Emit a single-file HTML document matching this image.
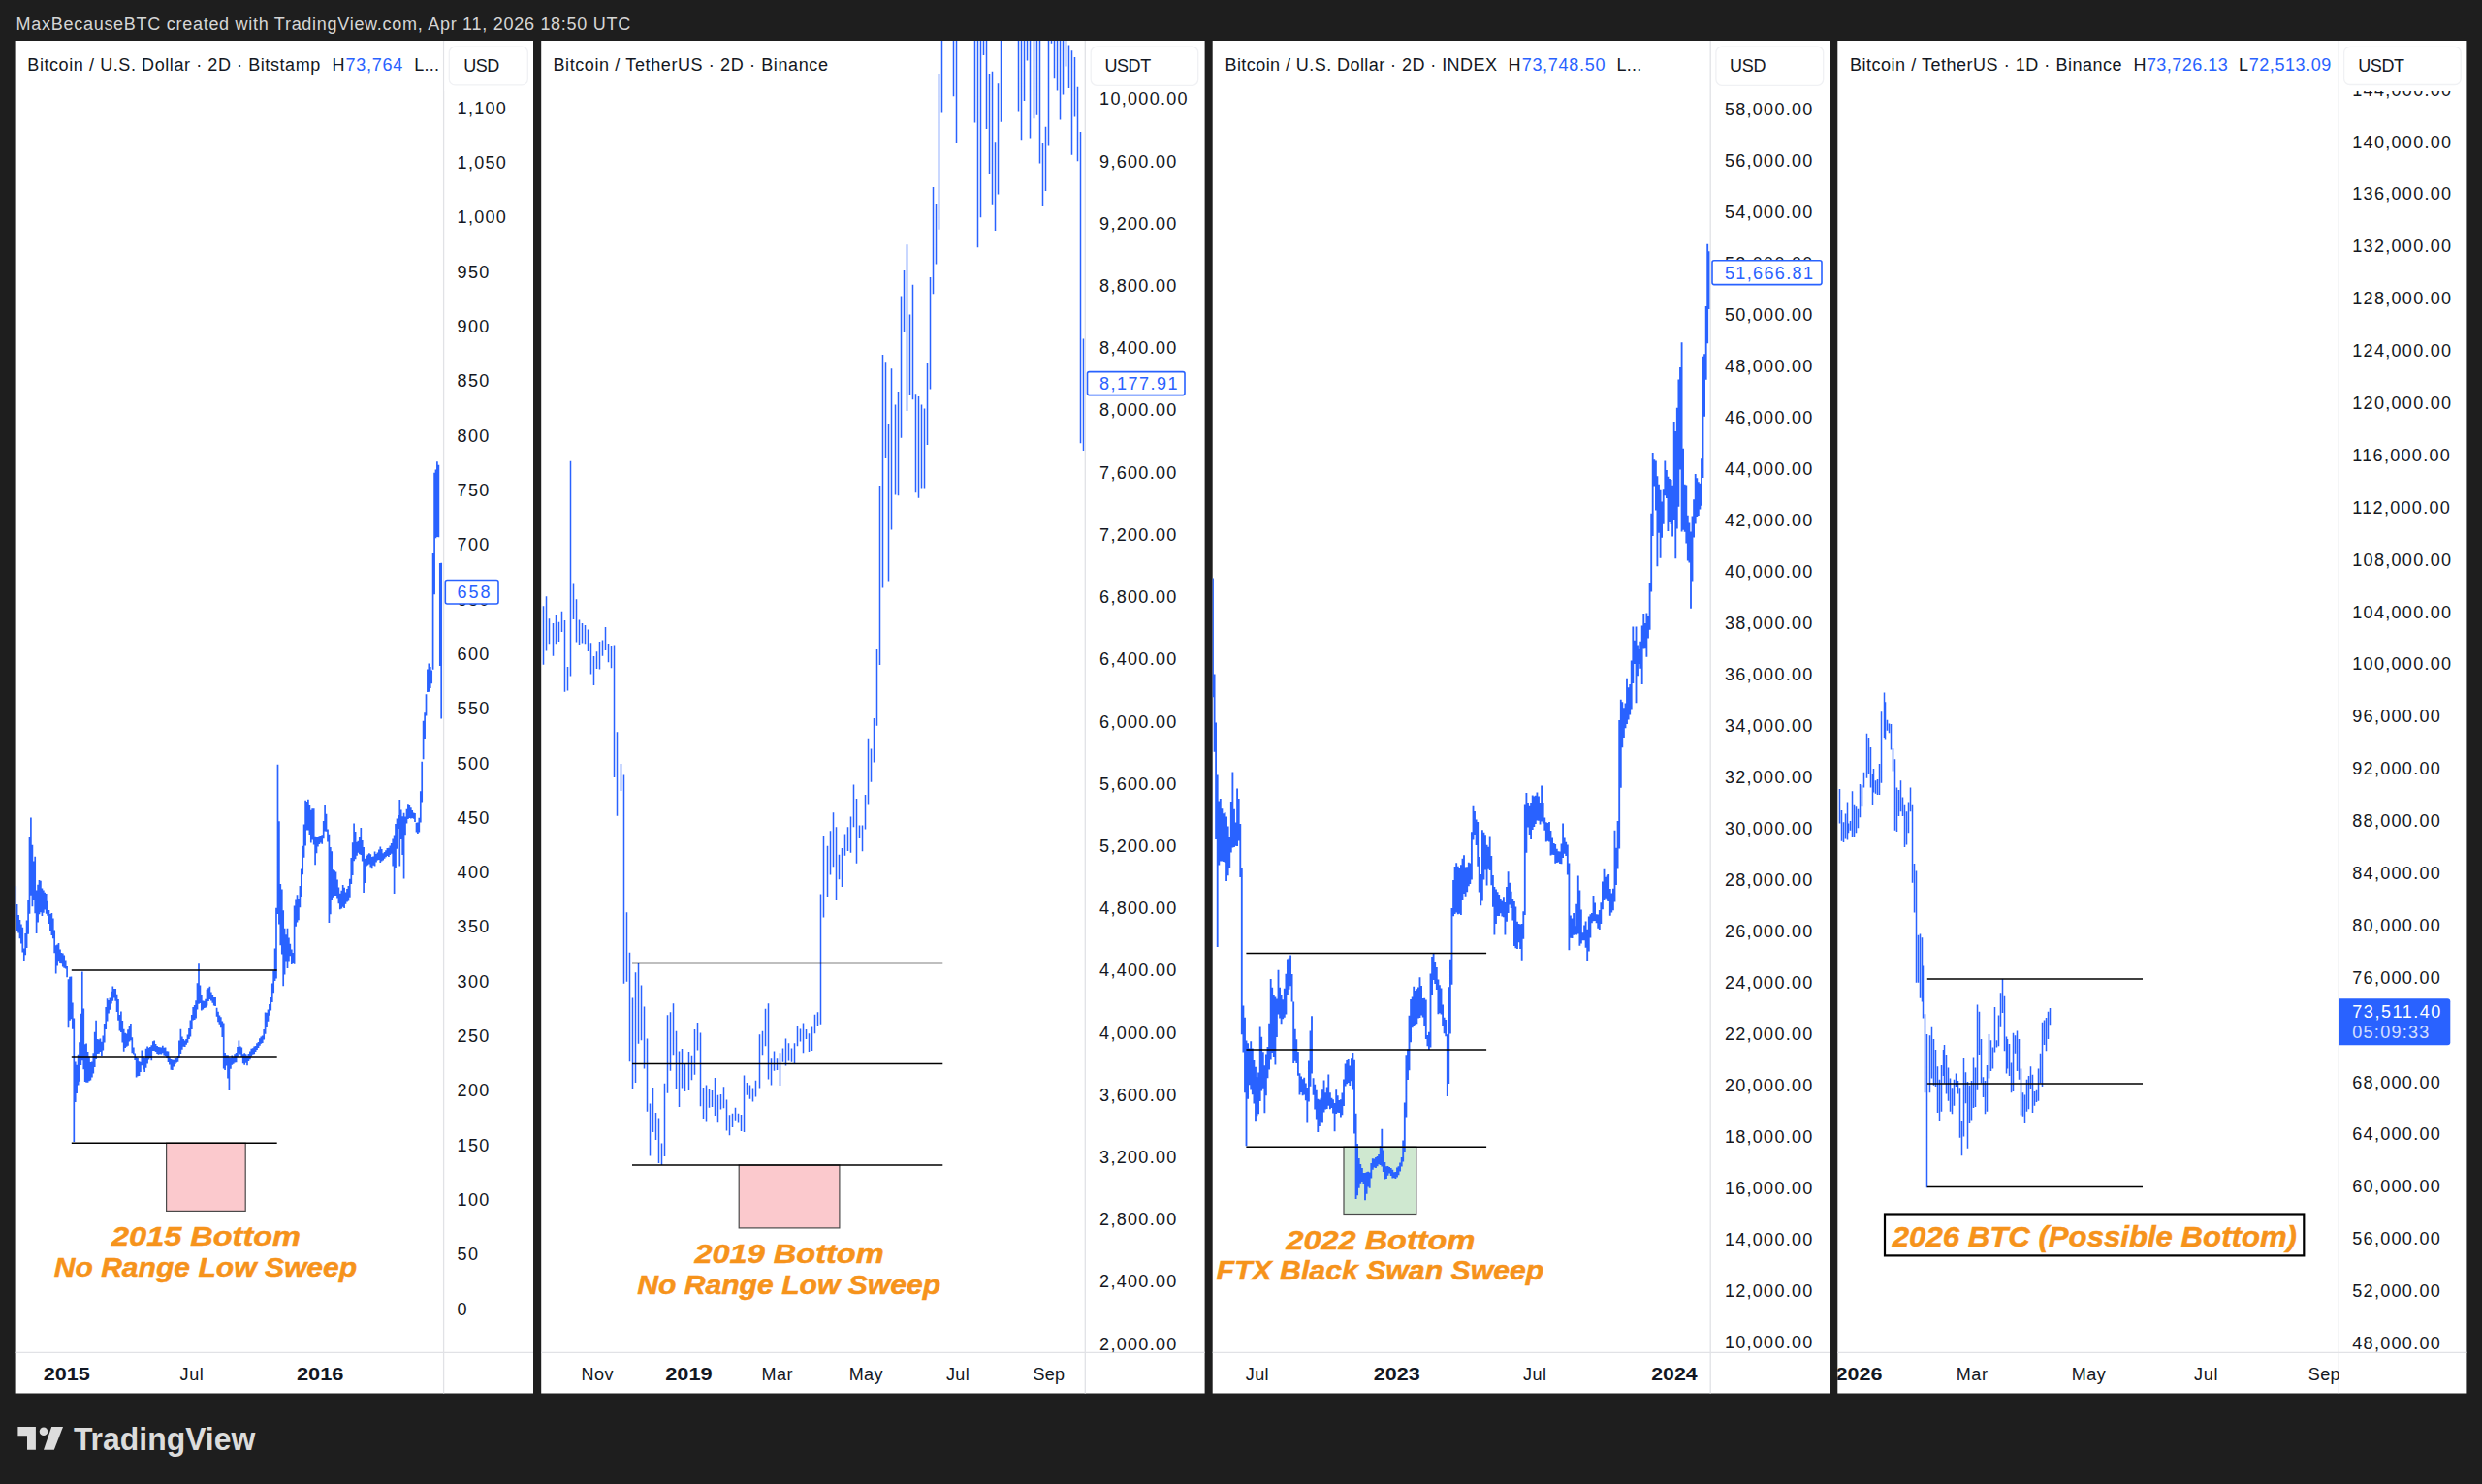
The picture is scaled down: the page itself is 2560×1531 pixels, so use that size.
<!DOCTYPE html><html><head><meta charset="utf-8"><title>BTC bottoms</title>
<style>html,body{margin:0;padding:0;background:#1e1e1e;overflow:hidden}svg{display:block}text{font-family:"Liberation Sans",sans-serif;font-size:18px;fill:#131722}.b{font-weight:bold}.o{font-weight:bold;font-style:italic;font-size:28px;fill:#f6931b;stroke:#f6931b;stroke-width:.5px}.bl{fill:#2962ff}.h{fill:#d6d6d6}</style></head><body>
<svg width="2560" height="1531" viewBox="0 0 2560 1531">
<rect width="2560" height="1531" fill="#1e1e1e"/>
<defs>
<clipPath id="c0"><rect x="15.6" y="42" width="442.0" height="1353.3"/></clipPath>
<clipPath id="t0"><rect x="15.6" y="1395.3" width="442.0" height="42.200000000000045"/></clipPath>
<clipPath id="a0"><rect x="457.6" y="42" width="92.39999999999998" height="1353.3"/></clipPath>
<clipPath id="c1"><rect x="558.2" y="42" width="561.0999999999999" height="1353.3"/></clipPath>
<clipPath id="t1"><rect x="558.2" y="1395.3" width="561.0999999999999" height="42.200000000000045"/></clipPath>
<clipPath id="a1"><rect x="1119.3" y="42" width="123.29999999999995" height="1353.3"/></clipPath>
<clipPath id="c2"><rect x="1250.7" y="42" width="513.5" height="1353.3"/></clipPath>
<clipPath id="t2"><rect x="1250.7" y="1395.3" width="513.5" height="42.200000000000045"/></clipPath>
<clipPath id="a2"><rect x="1764.2" y="42" width="123.20000000000005" height="1353.3"/></clipPath>
<clipPath id="c3"><rect x="1895.3" y="42" width="517.0000000000002" height="1353.3"/></clipPath>
<clipPath id="t3"><rect x="1895.3" y="1395.3" width="517.0000000000002" height="42.200000000000045"/></clipPath>
<clipPath id="a3"><rect x="2412.3" y="42" width="132.0999999999999" height="1353.3"/></clipPath>
</defs>
<text x="16.6" y="30.7" class="h" textLength="633.6" lengthAdjust="spacing">MaxBecauseBTC created with TradingView.com, Apr 11, 2026 18:50 UTC</text>
<rect x="15.6" y="42" width="534.4" height="1395.5" fill="#fff"/>
<rect x="558.2" y="42" width="684.3999999999999" height="1395.5" fill="#fff"/>
<rect x="1250.7" y="42" width="636.7" height="1395.5" fill="#fff"/>
<rect x="1895.3" y="42" width="649.1000000000001" height="1395.5" fill="#fff"/>
<rect x="171.6" y="1179.3" width="81.6" height="70.1" fill="#fbc9cd" stroke="#4a4a4a" stroke-width="1.2"/>
<rect x="762.2" y="1202.0" width="103.7" height="64.9" fill="#fbc9cd" stroke="#4a4a4a" stroke-width="1.2"/>
<rect x="1386.0" y="1183.3" width="74.8" height="69.2" fill="#cfe8d0" stroke="#4a4a4a" stroke-width="1.2"/>
<path d="M16.2 914.2V945.5M17.6 933.0V960.7M19.1 943.9V962.5M20.5 949.1V968.2M21.9 953.6V973.6M23.3 956.7V982.5M24.8 978.4V991.1M26.2 962.9V985.3M27.6 949.5V977.9M29.1 929.0V963.8M30.5 864.1V942.7M31.9 843.5V923.7M33.4 871.8V935.3M34.8 888.5V928.8M36.2 883.8V942.2M37.6 918.5V963.0M39.1 912.8V951.5M40.5 908.1V943.3M41.9 908.8V941.3M43.4 916.5V944.9M44.8 918.4V941.8M46.2 920.7V938.4M47.7 922.1V942.7M49.1 929.8V944.7M50.5 939.0V953.0M51.9 943.1V960.2M53.4 942.1V965.1M54.8 947.6V968.2M56.2 959.6V983.2M57.7 975.2V1004.6M59.1 974.5V996.5M60.5 973.0V991.3M62.0 979.4V993.7M63.4 983.0V994.2M64.8 983.5V997.5M66.2 985.6V998.8M67.7 990.5V999.5M69.1 996.9V1008.2M70.5 1010.3V1060.3M72.0 1007.7V1052.7M73.4 1007.5V1051.3M74.8 1034.6V1061.8M76.3 1050.5V1178.0M77.7 1095.5V1136.9M79.1 1098.8V1128.0M80.6 1087.8V1119.6M82.0 1075.3V1115.7M83.4 1045.8V1099.1M84.8 1002.6V1094.2M86.3 1040.5V1103.2M87.7 1077.2V1115.9M89.1 1076.5V1116.7M90.6 1085.1V1116.7M92.0 1089.4V1115.2M93.4 1096.1V1114.6M94.9 1095.5V1111.4M96.3 1086.2V1107.5M97.7 1064.7V1100.9M99.1 1052.8V1093.1M100.6 1072.1V1086.9M102.0 1072.5V1086.7M103.4 1071.4V1085.1M104.9 1074.7V1089.1M106.3 1068.4V1083.5M107.7 1056.1V1075.4M109.2 1039.0V1061.9M110.6 1030.2V1053.5M112.0 1031.9V1045.6M113.4 1029.4V1041.8M114.9 1022.8V1035.5M116.3 1017.4V1032.7M117.7 1019.9V1029.4M119.2 1020.0V1032.7M120.6 1025.8V1044.0M122.0 1031.1V1052.8M123.5 1047.1V1063.5M124.9 1043.6V1064.9M126.3 1053.0V1075.5M127.7 1061.7V1084.7M129.2 1065.7V1080.9M130.6 1066.5V1079.7M132.0 1062.2V1078.7M133.5 1057.9V1074.5M134.9 1056.0V1073.2M136.3 1070.2V1086.2M137.8 1080.5V1087.5M139.2 1086.5V1094.1M140.6 1089.9V1111.6M142.0 1091.3V1110.3M143.5 1095.2V1109.9M144.9 1095.7V1105.9M146.3 1083.5V1099.3M147.8 1089.6V1103.4M149.2 1091.9V1106.0M150.6 1081.7V1101.8M152.1 1079.6V1097.5M153.5 1080.7V1093.5M154.9 1079.9V1091.8M156.3 1078.2V1094.3M157.8 1074.2V1084.0M159.2 1073.5V1084.0M160.6 1077.0V1085.0M162.1 1079.0V1087.0M163.5 1080.0V1087.7M164.9 1080.2V1087.3M166.4 1080.6V1087.6M167.8 1078.8V1086.2M169.2 1080.7V1088.5M170.6 1080.4V1089.0M172.1 1084.2V1091.0M173.5 1084.4V1095.9M174.9 1090.2V1098.6M176.4 1093.1V1103.8M177.8 1093.6V1104.0M179.2 1093.8V1100.4M180.7 1092.1V1098.0M182.1 1090.9V1096.4M183.5 1089.0V1095.8M184.9 1073.5V1091.0M186.4 1061.7V1087.0M187.8 1069.4V1082.7M189.2 1072.0V1079.8M190.7 1073.4V1079.9M192.1 1072.1V1077.8M193.5 1067.5V1075.7M195.0 1060.9V1072.1M196.4 1052.5V1069.4M197.8 1047.1V1062.0M199.2 1039.0V1052.6M200.7 1037.0V1051.9M202.1 1032.2V1050.5M203.5 1014.3V1041.4M205.0 994.2V1035.8M206.4 1016.4V1034.9M207.8 1026.5V1042.4M209.3 1032.5V1041.5M210.7 1032.8V1040.0M212.1 1030.7V1039.4M213.5 1020.8V1037.5M215.0 1019.3V1033.1M216.4 1017.7V1030.9M217.8 1023.5V1032.4M219.3 1027.0V1034.7M220.7 1029.0V1037.4M222.1 1029.1V1038.0M223.6 1039.7V1048.7M225.0 1043.8V1054.2M226.4 1047.4V1056.7M227.8 1049.3V1060.3M229.3 1053.5V1070.0M230.7 1055.6V1102.5M232.1 1086.1V1103.9M233.6 1088.2V1099.4M235.0 1088.2V1112.4M236.4 1090.5V1125.0M237.9 1091.0V1102.8M239.3 1088.4V1098.7M240.7 1090.2V1097.8M242.1 1087.2V1096.5M243.6 1085.9V1096.2M245.0 1080.0V1089.9M246.4 1073.4V1086.1M247.9 1079.4V1087.4M249.3 1080.4V1090.0M250.7 1087.2V1097.3M252.2 1086.3V1098.8M253.6 1087.2V1096.7M255.0 1088.7V1099.3M256.4 1086.9V1095.0M257.9 1084.5V1093.3M259.3 1081.8V1089.4M260.7 1081.3V1087.7M262.2 1079.4V1087.2M263.6 1079.0V1085.1M265.0 1076.3V1083.0M266.5 1075.0V1080.9M267.9 1071.2V1078.7M269.3 1069.5V1076.8M270.7 1068.4V1076.0M272.2 1062.0V1072.4M273.6 1044.6V1066.8M275.0 1044.7V1059.9M276.5 1041.5V1053.8M277.9 1036.0V1047.8M279.3 1029.1V1042.5M280.8 1014.5V1034.1M282.2 1001.6V1024.3M283.6 978.5V1012.0M285.0 936.8V1009.4M286.5 788.7V943.0M287.9 847.2V953.6M289.3 912.1V975.3M290.8 917.5V984.5M292.2 939.2V1017.3M293.6 957.7V1005.4M295.1 964.3V991.6M296.5 957.8V998.9M297.9 967.4V991.6M299.3 973.8V986.3M300.8 979.6V994.9M302.2 983.1V993.4M303.6 934.6V994.7M305.1 927.4V955.7M306.5 923.3V951.5M307.9 926.9V949.2M309.4 914.1V936.3M310.8 896.4V924.9M312.2 872.7V902.2M313.6 850.6V884.8M315.1 825.7V872.4M316.5 826.9V856.5M317.9 824.7V856.4M319.4 830.4V861.0M320.8 835.7V869.6M322.2 834.3V866.4M323.7 834.2V871.5M325.1 862.7V892.2M326.5 863.7V880.3M327.9 863.6V873.5M329.4 862.3V870.9M330.8 862.0V869.4M332.2 861.2V870.8M333.7 847.1V865.2M335.1 829.9V857.6M336.5 839.8V857.8M338.0 855.6V868.6M339.4 860.8V952.0M340.8 874.1V943.3M342.2 878.3V927.9M343.7 897.3V925.7M345.1 898.3V924.0M346.5 899.6V923.9M348.0 907.5V926.5M349.4 915.4V932.3M350.8 921.7V938.2M352.3 918.8V937.4M353.7 913.1V935.7M355.1 915.8V937.0M356.5 920.5V932.8M358.0 917.1V930.5M359.4 913.9V929.4M360.8 906.7V925.8M362.3 885.1V912.1M363.7 869.2V902.9M365.1 849.4V888.3M366.6 858.0V886.3M368.0 868.8V882.7M369.4 867.7V879.8M370.8 863.5V881.3M372.3 853.9V882.1M373.7 867.0V888.6M375.1 873.9V920.9M376.6 885.7V911.1M378.0 883.0V893.5M379.4 881.5V892.4M380.9 880.2V891.4M382.3 881.3V894.4M383.7 883.9V896.2M385.1 883.4V892.7M386.6 878.6V893.4M388.0 881.0V889.4M389.4 879.5V887.5M390.9 876.5V887.0M392.3 873.6V890.0M393.7 876.0V888.4M395.2 880.3V887.6M396.6 879.0V885.8M398.0 877.2V884.2M399.4 875.1V882.9M400.9 874.8V883.9M402.3 872.4V882.0M403.7 870.1V880.7M405.2 865.5V893.4M406.6 861.5V922.1M408.0 849.9V894.9M409.5 844.4V875.8M410.9 841.0V854.9M412.3 824.9V893.4M413.7 835.5V865.9M415.2 842.3V881.9M416.6 838.7V906.6M418.0 842.6V861.3M419.5 834.7V849.5M420.9 829.3V845.0M422.3 829.9V844.1M423.8 833.2V844.6M425.2 835.9V844.0M426.6 838.5V844.7M428.0 839.1V847.9M429.5 848.7V858.5M430.9 848.6V860.1M432.3 843.8V858.4M433.8 816.2V848.5M435.2 785.7V827.5M436.6 743.8V783.2M438.1 735.2V762.1M439.5 716.2V738.4M440.9 690.6V713.9M442.3 684.4V713.8M443.8 687.9V709.9M445.2 691.4V705.3M446.6 570.5V690.7M448.1 487.8V613.3M449.5 484.4V555.2M450.9 476.2V554.0M452.4 479.7V554.2M453.8 581.1V687.1M455.2 580.7V741.4" stroke="#2962ff" stroke-width="1.7" fill="none" clip-path="url(#c0)" opacity="1"/>
<path d="M1251.0 596.6V719.3M1252.6 695.4V775.8M1254.1 745.6V865.9M1255.7 799.4V977.1M1257.3 826.6V892.5M1258.8 823.9V888.6M1260.4 834.2V888.6M1262.0 839.3V889.1M1263.6 838.2V890.0M1265.1 842.4V909.0M1266.7 852.6V903.3M1268.3 863.2V895.3M1269.8 827.1V879.4M1271.4 796.6V874.5M1273.0 834.8V874.1M1274.5 848.6V872.7M1276.1 813.5V873.0M1277.7 824.0V867.5M1279.3 849.9V904.9M1280.8 895.7V1067.2M1282.4 1037.4V1085.5M1284.0 1049.8V1127.2M1285.5 1073.5V1182.3M1287.1 1076.2V1133.7M1288.7 1081.4V1119.2M1290.2 1074.3V1124.4M1291.8 1081.4V1129.2M1293.4 1093.9V1138.6M1295.0 1100.7V1157.3M1296.5 1111.3V1151.2M1298.1 1106.4V1149.3M1299.7 1059.4V1135.9M1301.2 1069.7V1125.4M1302.8 1085.3V1122.7M1304.4 1099.2V1148.3M1305.9 1087.4V1130.2M1307.5 1079.9V1112.3M1309.1 1055.7V1103.5M1310.7 1009.9V1093.5M1312.2 1018.7V1086.1M1313.8 1026.2V1089.9M1315.4 1028.5V1098.5M1316.9 1030.4V1070.0M1318.5 1000.8V1046.5M1320.1 1018.8V1050.6M1321.6 1027.1V1056.2M1323.2 1031.2V1051.2M1324.8 1019.7V1049.8M1326.4 1004.7V1046.6M1327.9 989.5V1027.1M1329.5 988.5V1020.8M1331.1 985.5V1017.2M1332.6 1005.0V1033.6M1334.2 1033.5V1097.1M1335.8 1061.8V1094.8M1337.3 1072.3V1097.1M1338.9 1085.1V1109.8M1340.5 1107.2V1129.5M1342.1 1110.5V1127.0M1343.6 1113.3V1130.3M1345.2 1111.7V1129.5M1346.8 1117.5V1135.3M1348.3 1122.1V1158.5M1349.9 1094.4V1136.4M1351.5 1063.6V1120.7M1353.0 1048.3V1107.5M1354.6 1112.3V1129.7M1356.2 1118.8V1144.4M1357.8 1124.8V1154.5M1359.3 1133.8V1168.1M1360.9 1134.6V1162.1M1362.5 1132.7V1157.7M1364.0 1124.3V1158.5M1365.6 1114.5V1147.6M1367.2 1127.2V1144.5M1368.7 1121.5V1144.0M1370.3 1108.6V1140.8M1371.9 1127.3V1144.3M1373.5 1132.8V1143.1M1375.0 1134.3V1148.6M1376.6 1138.0V1167.3M1378.2 1124.3V1149.0M1379.7 1130.3V1147.8M1381.3 1134.9V1148.1M1382.9 1134.2V1152.6M1384.4 1127.6V1150.2M1386.0 1113.5V1140.9M1387.6 1097.6V1120.5M1389.2 1093.9V1118.3M1390.7 1093.0V1116.9M1392.3 1099.4V1120.0M1393.9 1092.2V1115.2M1395.4 1086.0V1124.4M1397.0 1093.7V1169.6M1398.6 1148.7V1237.0M1400.1 1180.1V1233.3M1401.7 1195.1V1225.7M1403.3 1201.0V1220.8M1404.9 1204.9V1218.9M1406.4 1210.0V1221.7M1408.0 1210.1V1238.2M1409.6 1209.2V1231.7M1411.1 1208.8V1224.6M1412.7 1209.4V1225.7M1414.3 1200.1V1215.6M1415.8 1195.3V1206.7M1417.4 1195.4V1204.4M1419.0 1193.9V1205.1M1420.6 1193.0V1203.3M1422.1 1191.0V1201.2M1423.7 1182.2V1201.9M1425.3 1164.7V1203.6M1426.8 1186.6V1208.9M1428.4 1199.1V1216.6M1430.0 1203.3V1216.1M1431.5 1203.0V1212.7M1433.1 1204.0V1210.6M1434.7 1205.1V1212.9M1436.3 1206.8V1215.5M1437.8 1209.3V1215.2M1439.4 1209.1V1215.9M1441.0 1204.6V1214.4M1442.5 1203.3V1212.2M1444.1 1199.4V1208.4M1445.7 1193.9V1203.6M1447.2 1176.4V1198.6M1448.8 1137.6V1189.0M1450.4 1088.3V1152.6M1452.0 1082.4V1114.1M1453.5 1047.7V1104.3M1455.1 1031.0V1075.3M1456.7 1028.5V1060.2M1458.2 1017.8V1058.2M1459.8 1022.0V1057.2M1461.4 1020.2V1056.2M1462.9 1018.5V1050.4M1464.5 1008.2V1050.0M1466.1 1016.9V1047.4M1467.7 1030.1V1049.5M1469.2 1029.8V1058.1M1470.8 1031.6V1071.9M1472.4 1067.9V1079.3M1473.9 1064.8V1082.9M1475.5 1004.4V1080.6M1477.1 986.9V1027.0M1478.6 983.6V1011.0M1480.2 992.1V1014.9M1481.8 998.1V1021.1M1483.4 1010.4V1046.3M1484.9 1016.2V1045.2M1486.5 1019.6V1046.5M1488.1 1036.6V1059.0M1489.6 1049.7V1066.3M1491.2 1052.0V1069.2M1492.8 1067.3V1131.0M1494.3 1018.3V1117.9M1495.9 989.7V1066.4M1497.5 937.0V1015.8M1499.1 907.9V945.2M1500.6 893.9V943.1M1502.2 890.2V941.4M1503.8 893.8V943.3M1505.3 895.6V942.7M1506.9 892.3V944.0M1508.5 885.7V928.9M1510.0 882.2V922.1M1511.6 894.5V924.7M1513.2 894.3V920.3M1514.8 889.7V914.2M1516.3 890.6V911.9M1517.9 858.3V907.5M1519.5 831.7V866.4M1521.0 836.9V861.0M1522.6 845.4V872.0M1524.2 848.1V893.7M1525.7 883.9V920.4M1527.3 902.1V934.2M1528.9 856.2V929.6M1530.5 858.8V907.4M1532.0 861.2V897.5M1533.6 871.8V913.4M1535.2 873.7V896.8M1536.7 862.5V898.0M1538.3 883.1V913.3M1539.9 903.0V935.7M1541.4 914.9V964.4M1543.0 917.5V953.1M1544.6 920.3V945.1M1546.2 922.9V944.9M1547.7 927.1V942.2M1549.3 929.5V945.4M1550.9 925.2V946.2M1552.4 931.1V964.4M1554.0 915.0V950.7M1555.6 899.2V942.0M1557.1 910.7V933.5M1558.7 919.7V937.0M1560.3 926.9V949.6M1561.9 929.9V975.9M1563.4 935.4V978.2M1565.0 950.8V979.0M1566.6 952.9V972.2M1568.1 953.4V979.1M1569.7 953.0V990.7M1571.3 940.2V968.8M1572.8 829.6V944.0M1574.4 817.9V879.7M1576.0 827.9V853.6M1577.6 831.8V861.0M1579.1 828.1V866.1M1580.7 820.6V856.1M1582.3 821.4V852.9M1583.8 820.8V849.9M1585.4 817.6V846.5M1587.0 821.4V846.8M1588.5 828.0V850.5M1590.1 810.6V847.4M1591.7 828.0V849.5M1593.3 843.6V856.8M1594.8 848.3V868.5M1596.4 848.9V867.8M1598.0 848.0V868.6M1599.5 856.9V882.5M1601.1 864.5V881.7M1602.7 870.1V882.1M1604.2 871.1V890.7M1605.8 875.8V890.0M1607.4 878.3V889.4M1609.0 878.5V891.1M1610.5 870.6V891.2M1612.1 849.6V885.0M1613.7 864.5V880.8M1615.2 868.8V882.9M1616.8 871.6V902.4M1618.4 890.5V980.2M1619.9 944.4V967.7M1621.5 947.6V967.9M1623.1 942.0V964.8M1624.7 955.3V964.0M1626.2 932.8V964.5M1627.8 903.6V963.6M1629.4 918.6V975.8M1630.9 938.4V973.5M1632.5 962.3V970.3M1634.1 954.5V970.3M1635.6 950.4V977.8M1637.2 958.8V990.9M1638.8 945.5V981.6M1640.4 943.2V967.4M1641.9 942.0V952.2M1643.5 924.0V950.2M1645.1 931.6V950.1M1646.6 943.3V952.2M1648.2 943.5V957.7M1649.8 939.1V958.9M1651.3 931.2V952.9M1652.9 909.4V938.3M1654.5 896.8V928.7M1656.1 904.8V926.7M1657.6 903.3V927.7M1659.2 902.1V930.0M1660.8 917.1V944.7M1662.3 921.6V941.5M1663.9 916.7V939.3M1665.5 856.7V930.5M1667.0 874.8V912.9M1668.6 847.0V896.4M1670.2 743.0V875.5M1671.8 721.8V812.7M1673.3 724.3V771.2M1674.9 730.3V761.1M1676.5 725.5V751.3M1678.0 699.7V746.9M1679.6 709.3V742.4M1681.2 706.0V737.5M1682.7 681.4V731.6M1684.3 646.6V705.1M1685.9 660.8V685.0M1687.5 646.5V725.2M1689.0 665.6V697.2M1690.6 670.1V685.0M1692.2 661.7V689.8M1693.7 645.4V705.9M1695.3 632.9V669.4M1696.9 643.1V669.3M1698.4 632.6V677.7M1700.0 635.2V658.4M1701.6 600.9V649.7M1703.2 529.7V610.4M1704.7 466.9V553.0M1706.3 474.2V501.4M1707.9 475.5V526.4M1709.4 491.2V584.3M1711.0 499.7V549.7M1712.6 505.8V575.7M1714.1 517.4V554.8M1715.7 505.2V540.7M1717.3 475.4V511.3M1718.9 485.0V514.1M1720.4 491.8V548.0M1722.0 494.0V538.9M1723.6 495.0V541.1M1725.1 500.7V553.4M1726.7 435.1V536.1M1728.3 444.9V576.3M1729.8 420.7V545.6M1731.4 391.6V522.7M1733.0 379.0V484.4M1734.6 353.3V548.5M1736.1 462.8V546.7M1737.7 499.7V548.8M1739.3 500.6V560.4M1740.8 531.7V578.5M1742.4 539.5V580.5M1744.0 548.6V627.8M1745.5 532.6V599.6M1747.1 515.3V554.4M1748.7 488.9V540.6M1750.3 493.3V533.1M1751.8 497.3V532.0M1753.4 498.8V525.6M1755.0 473.3V521.8M1756.5 367.7V493.1M1758.1 365.2V429.8M1759.7 315.9V391.8M1761.2 251.7V354.2M1762.8 259.3V318.9" stroke="#2962ff" stroke-width="1.85" fill="none" clip-path="url(#c2)" opacity="1"/>
<path d="M560.5 625.2V685.7M563.5 615.3V671.5M566.5 638.3V664.3M570.5 643.0V676.7M573.5 634.0V664.3M576.5 641.8V662.0M579.5 630.7V652.0M582.5 639.9V713.7M585.5 688.1V712.5M588.5 475.8V697.5M591.5 601.5V639.0M594.5 618.3V662.4M597.5 639.4V665.1M600.5 643.0V663.4M603.5 644.9V664.3M606.5 649.4V671.9M609.5 663.2V695.6M612.5 676.9V707.0M615.5 672.2V690.0M618.5 662.0V690.4M621.5 660.5V676.7M624.5 647.0V671.0M627.5 663.9V683.3M630.5 666.0V689.2M633.5 665.5V801.9M636.5 755.2V841.7M640.5 788.1V816.1M643.5 799.5V1014.7M646.5 941.2V1012.8M649.5 982.7V1095.3M652.5 1029.4V1123.1M655.5 1003.3V1117.1M658.5 993.4V1076.8M661.5 1016.4V1073.3M664.5 1038.4V1102.4M667.5 1071.6V1146.8M670.5 1138.5V1192.5M673.5 1121.9V1168.1M676.5 1148.0V1175.9M679.5 1153.4V1200.1M682.5 1179.5V1202.0M685.5 1117.8V1193.0M688.5 1047.2V1127.8M691.5 1044.3V1104.8M694.5 1035.3V1088.2M697.5 1063.8V1123.8M700.5 1084.4V1142.0M703.5 1082.0V1122.4M706.5 1097.0V1126.1M710.5 1085.1V1125.0M713.5 1088.7V1114.3M716.5 1062.1V1108.8M719.5 1055.0V1083.5M722.5 1065.4V1141.3M725.5 1121.9V1153.9M728.5 1119.5V1157.4M731.5 1123.8V1142.7M734.5 1125.0V1142.0M737.5 1111.9V1151.0M740.5 1129.7V1158.2M743.5 1129.0V1144.4M746.5 1121.2V1143.2M749.5 1134.4V1166.5M752.5 1150.3V1171.2M755.5 1148.7V1162.9M758.5 1142.7V1155.8M761.5 1148.7V1158.6M764.5 1149.9V1166.9M767.5 1109.5V1168.1M770.5 1117.1V1129.7M773.5 1119.5V1133.7M776.5 1122.4V1136.6M779.5 1114.8V1131.4M783.5 1067.3V1122.4M786.5 1063.8V1088.2M789.5 1040.8V1079.2M792.5 1035.3V1113.6M795.5 1092.2V1119.5M798.5 1084.6V1104.8M801.5 1092.2V1104.1M804.5 1086.3V1120.0M807.5 1081.6V1095.8M810.5 1071.6V1099.4M813.5 1076.3V1094.6M816.5 1081.6V1095.8M819.5 1076.3V1097.5M822.5 1057.9V1079.2M825.5 1061.4V1074.5M828.5 1055.5V1086.3M831.5 1062.1V1072.1M834.5 1066.2V1085.1M837.5 1059.5V1083.9M840.5 1046.7V1066.2M843.5 1044.3V1059.0M846.5 922.5V1056.7M849.5 862.0V946.4M853.5 872.7V925.1M856.5 857.3V902.5M859.5 838.3V894.2M862.5 853.3V928.6M865.5 881.7V907.3M868.5 875.1V914.9M871.5 860.4V882.8M874.5 853.3V877.9M877.5 842.4V879.8M880.5 809.4V853.3M883.5 824.1V890.7M886.5 851.4V865.1M889.5 851.4V878.2M892.5 820.1V855.6M895.5 761.7V829.5M898.5 772.4V806.8M901.5 741.1V786.6M904.5 669.9V748.7M907.5 501.1V686.0M910.5 366.1V606.6M913.5 373.2V472.2M916.5 437.1V599.5M919.5 380.3V546.6M923.5 417.6V510.6M926.5 403.9V511.3M929.5 305.6V451.8M932.5 279.0V342.3M935.5 252.2V424.0M938.5 324.6V407.4M941.5 293.7V412.2M944.5 406.2V508.2M947.5 409.1V513.7M950.5 417.6V503.5M953.5 421.6V503.5M956.5 374.8V459.1M959.5 285.9V401.5M962.5 193.0V303.2M965.5 210.0V272.4M968.5 76.0V236.8M971.5 30.0V116.4M983.5 30.0V99.3M986.5 30.0V147.9M1005.5 30.0V126.6M1008.5 30.0V255.3M1011.5 30.0V224.3M1014.5 30.0V57.1M1017.5 30.0V133.0M1020.5 76.0V179.9M1023.5 73.7V210.7M1026.5 147.2V238.0M1029.5 86.2V200.5M1032.5 30.0V125.8M1050.5 30.0V115.4M1053.5 30.0V144.3M1056.5 30.0V104.0M1059.5 30.0V62.5M1062.5 30.0V142.4M1066.5 30.0V122.3M1069.5 30.0V118.7M1072.5 30.0V168.5M1075.5 147.9V213.1M1078.5 130.8V197.0M1081.5 30.0V150.5M1084.5 30.0V44.7M1087.5 30.0V80.3M1090.5 30.0V93.4M1093.5 30.0V123.5M1096.5 30.0V97.6M1099.5 30.0V68.5M1102.5 46.6V91.0M1105.5 52.3V159.8M1108.5 59.0V120.6M1111.5 89.8V166.2M1114.5 136.0V457.2M1117.5 349.5V465.0" stroke="#2962ff" stroke-width="1.5" fill="none" clip-path="url(#c1)" opacity="1"/>
<path d="M1897.5 813.9V849.4M1899.5 835.9V867.8M1901.5 848.2V869.1M1903.5 839.6V865.4M1905.5 827.4V866.6M1906.5 849.4V859.2M1908.5 847.0V856.8M1910.5 816.3V864.1M1912.5 829.8V862.9M1914.5 832.3V859.2M1916.5 834.7V854.3M1918.5 809.0V843.3M1920.5 810.2V832.3M1922.5 796.7V812.6M1925.5 756.7V802.8M1927.5 761.1V797.9M1929.5 770.9V812.6M1931.5 797.9V831.0M1932.5 793.0V817.5M1934.5 805.3V818.8M1936.5 804.1V820.0M1938.5 788.1V820.0M1940.5 734.2V807.7M1943.5 714.5V761.1M1944.5 724.3V762.4M1946.5 742.7V753.8M1948.5 746.4V756.2M1950.5 746.9V773.4M1952.5 772.2V795.5M1954.5 783.2V856.8M1956.5 812.6V858.0M1958.5 815.1V842.1M1960.5 805.3V837.2M1962.5 822.5V842.1M1964.5 829.8V874.0M1966.5 837.2V871.5M1968.5 827.4V859.2M1970.5 812.6V837.2M1972.5 829.8V910.8M1974.5 891.1V941.4M1976.5 898.5V1013.8M1978.5 964.7V1013.8M1980.5 963.5V1029.7M1982.5 967.2V1033.4M1983.5 996.6V1050.6M1985.5 1046.2V1127.2M1987.5 1067.1V1225.3M1990.5 1068.3V1127.2M1992.5 1059.7V1112.5M1994.5 1072.0V1119.8M1996.5 1083.0V1121.0M1998.5 1100.2V1148.0M2000.5 1113.7V1156.6M2002.5 1099.0V1146.8M2004.5 1083.0V1110.0M2005.5 1078.1V1117.4M2007.5 1087.9V1128.4M2009.5 1101.4V1135.8M2011.5 1112.5V1146.8M2013.5 1122.3V1149.2M2015.5 1113.7V1140.7M2017.5 1107.5V1121.0M2019.5 1114.9V1128.4M2021.5 1122.3V1173.8M2023.5 1156.6V1192.2M2025.5 1091.6V1172.5M2027.5 1106.3V1138.2M2029.5 1116.1V1184.8M2031.5 1119.8V1159.1M2033.5 1114.9V1155.4M2035.5 1090.4V1143.1M2037.5 1101.4V1141.9M2039.5 1036.4V1124.7M2041.5 1043.8V1087.9M2043.5 1072.0V1117.4M2045.5 1111.2V1132.1M2047.5 1114.9V1149.2M2049.5 1099.0V1146.8M2051.5 1067.1V1112.5M2053.5 1073.2V1105.1M2055.5 1080.6V1102.6M2057.5 1038.9V1085.5M2059.5 1073.2V1080.6M2061.5 1047.5V1079.3M2063.5 1024.2V1059.7M2065.5 1009.9V1045.0M2067.5 1027.8V1084.2M2069.5 1069.5V1107.5M2070.5 1072.0V1102.6M2072.5 1076.9V1110.0M2074.5 1096.5V1127.2M2076.5 1065.8V1125.9M2078.5 1068.3V1086.7M2080.5 1063.4V1105.1M2082.5 1072.0V1113.7M2084.5 1102.6V1150.5M2086.5 1127.2V1151.7M2088.5 1129.6V1159.1M2090.5 1113.7V1146.8M2092.5 1110.0V1144.3M2094.5 1100.2V1123.5M2096.5 1108.8V1148.0M2098.5 1125.9V1140.7M2100.5 1124.7V1137.0M2102.5 1102.6V1135.8M2104.5 1086.7V1117.4M2106.5 1054.8V1121.0M2108.5 1052.4V1078.1M2110.5 1049.9V1084.2M2112.5 1043.8V1072.0M2114.5 1040.1V1057.3" stroke="#2962ff" stroke-width="1.5" fill="none" clip-path="url(#c3)" opacity="1"/>
<path d="M73.8 1001.1H285.7" stroke="#000" stroke-width="1.5"/>
<path d="M73.8 1090.0H285.7" stroke="#000" stroke-width="1.5"/>
<path d="M73.8 1179.3H285.7" stroke="#000" stroke-width="1.5"/>
<path d="M652.0 993.4H972.3" stroke="#000" stroke-width="1.5"/>
<path d="M652.0 1097.5H972.3" stroke="#000" stroke-width="1.5"/>
<path d="M652.0 1202.0H972.3" stroke="#000" stroke-width="1.5"/>
<path d="M1285.4 983.4H1533.1" stroke="#000" stroke-width="1.5"/>
<path d="M1285.4 1083.0H1533.1" stroke="#000" stroke-width="1.5"/>
<path d="M1285.4 1183.3H1533.1" stroke="#000" stroke-width="1.5"/>
<path d="M1987.8 1009.9H2210.0" stroke="#000" stroke-width="1.5"/>
<path d="M1987.8 1118.1H2210.0" stroke="#000" stroke-width="1.5"/>
<path d="M1987.8 1224.6H2210.0" stroke="#000" stroke-width="1.5"/>
<path d="M457.6 42V1437.5" stroke="#e1e2e6" stroke-width="1.3"/>
<path d="M15.6 1395.3H550" stroke="#e1e2e6" stroke-width="1.3"/>
<path d="M1119.3 42V1437.5" stroke="#e1e2e6" stroke-width="1.3"/>
<path d="M558.2 1395.3H1242.6" stroke="#e1e2e6" stroke-width="1.3"/>
<path d="M1764.2 42V1437.5" stroke="#e1e2e6" stroke-width="1.3"/>
<path d="M1250.7 1395.3H1887.4" stroke="#e1e2e6" stroke-width="1.3"/>
<path d="M2412.3 42V1437.5" stroke="#e1e2e6" stroke-width="1.3"/>
<path d="M1895.3 1395.3H2544.4" stroke="#e1e2e6" stroke-width="1.3"/>
<g clip-path="url(#a0)" letter-spacing="1.3">
<text x="471.6" y="1356.7">0</text>
<text x="471.6" y="1300.4">50</text>
<text x="471.6" y="1244.1">100</text>
<text x="471.6" y="1187.7">150</text>
<text x="471.6" y="1131.4">200</text>
<text x="471.6" y="1075.1">250</text>
<text x="471.6" y="1018.8">300</text>
<text x="471.6" y="962.4">350</text>
<text x="471.6" y="906.1">400</text>
<text x="471.6" y="849.8">450</text>
<text x="471.6" y="793.5">500</text>
<text x="471.6" y="737.2">550</text>
<text x="471.6" y="680.8">600</text>
<text x="471.6" y="624.5">650</text>
<text x="471.6" y="568.2">700</text>
<text x="471.6" y="511.9">750</text>
<text x="471.6" y="455.5">800</text>
<text x="471.6" y="399.2">850</text>
<text x="471.6" y="342.9">900</text>
<text x="471.6" y="286.6">950</text>
<text x="471.6" y="230.2">1,000</text>
<text x="471.6" y="173.9">1,050</text>
<text x="471.6" y="117.6">1,100</text>
</g>
<g clip-path="url(#a1)" letter-spacing="1.3">
<text x="1134.1" y="1392.5">2,000.00</text>
<text x="1134.1" y="1328.3">2,400.00</text>
<text x="1134.1" y="1264.1">2,800.00</text>
<text x="1134.1" y="1199.9">3,200.00</text>
<text x="1134.1" y="1135.7">3,600.00</text>
<text x="1134.1" y="1071.5">4,000.00</text>
<text x="1134.1" y="1007.3">4,400.00</text>
<text x="1134.1" y="943.1">4,800.00</text>
<text x="1134.1" y="878.9">5,200.00</text>
<text x="1134.1" y="814.7">5,600.00</text>
<text x="1134.1" y="750.5">6,000.00</text>
<text x="1134.1" y="686.2">6,400.00</text>
<text x="1134.1" y="622.0">6,800.00</text>
<text x="1134.1" y="557.8">7,200.00</text>
<text x="1134.1" y="493.6">7,600.00</text>
<text x="1134.1" y="429.4">8,000.00</text>
<text x="1134.1" y="365.2">8,400.00</text>
<text x="1134.1" y="301.0">8,800.00</text>
<text x="1134.1" y="236.8">9,200.00</text>
<text x="1134.1" y="172.6">9,600.00</text>
<text x="1134.1" y="108.4">10,000.00</text>
</g>
<g clip-path="url(#a2)" letter-spacing="1.3">
<text x="1778.9" y="1390.6">10,000.00</text>
<text x="1778.9" y="1337.6">12,000.00</text>
<text x="1778.9" y="1284.6">14,000.00</text>
<text x="1778.9" y="1231.6">16,000.00</text>
<text x="1778.9" y="1178.6">18,000.00</text>
<text x="1778.9" y="1125.6">20,000.00</text>
<text x="1778.9" y="1072.6">22,000.00</text>
<text x="1778.9" y="1019.6">24,000.00</text>
<text x="1778.9" y="966.6">26,000.00</text>
<text x="1778.9" y="913.6">28,000.00</text>
<text x="1778.9" y="860.6">30,000.00</text>
<text x="1778.9" y="807.6">32,000.00</text>
<text x="1778.9" y="754.6">34,000.00</text>
<text x="1778.9" y="701.5">36,000.00</text>
<text x="1778.9" y="648.5">38,000.00</text>
<text x="1778.9" y="595.5">40,000.00</text>
<text x="1778.9" y="542.5">42,000.00</text>
<text x="1778.9" y="489.5">44,000.00</text>
<text x="1778.9" y="436.5">46,000.00</text>
<text x="1778.9" y="383.5">48,000.00</text>
<text x="1778.9" y="330.5">50,000.00</text>
<text x="1778.9" y="277.5">52,000.00</text>
<text x="1778.9" y="224.5">54,000.00</text>
<text x="1778.9" y="171.5">56,000.00</text>
<text x="1778.9" y="118.5">58,000.00</text>
</g>
<g clip-path="url(#a3)" letter-spacing="1.3">
<text x="2426.3" y="1392.0">48,000.00</text>
<text x="2426.3" y="1338.1">52,000.00</text>
<text x="2426.3" y="1284.2">56,000.00</text>
<text x="2426.3" y="1230.3">60,000.00</text>
<text x="2426.3" y="1176.4">64,000.00</text>
<text x="2426.3" y="1122.5">68,000.00</text>
<text x="2426.3" y="1068.7">72,000.00</text>
<text x="2426.3" y="1014.8">76,000.00</text>
<text x="2426.3" y="960.9">80,000.00</text>
<text x="2426.3" y="907.0">84,000.00</text>
<text x="2426.3" y="853.1">88,000.00</text>
<text x="2426.3" y="799.2">92,000.00</text>
<text x="2426.3" y="745.3">96,000.00</text>
<text x="2426.3" y="691.4">100,000.00</text>
<text x="2426.3" y="637.5">104,000.00</text>
<text x="2426.3" y="583.6">108,000.00</text>
<text x="2426.3" y="529.8">112,000.00</text>
<text x="2426.3" y="475.9">116,000.00</text>
<text x="2426.3" y="422.0">120,000.00</text>
<text x="2426.3" y="368.1">124,000.00</text>
<text x="2426.3" y="314.2">128,000.00</text>
<text x="2426.3" y="260.3">132,000.00</text>
<text x="2426.3" y="206.4">136,000.00</text>
<text x="2426.3" y="152.5">140,000.00</text>
<text x="2426.3" y="98.6">144,000.00</text>
</g>
<rect x="458.4" y="43" width="90.4" height="51.0" fill="#fff"/>
<rect x="1120.1" y="43" width="121.3" height="51.0" fill="#fff"/>
<rect x="1765.0" y="43" width="121.2" height="51.0" fill="#fff"/>
<rect x="2413.1" y="43" width="130.1" height="51.0" fill="#fff"/>
<rect x="463.3" y="48.2" width="81.0" height="39.7" rx="6" fill="#fff" stroke="#f0f1f4" stroke-width="1.3"/>
<text x="478.3" y="74.0" textLength="36.9" lengthAdjust="spacing">USD</text>
<rect x="1125.2" y="48.2" width="110.5" height="40.1" rx="6" fill="#fff" stroke="#f0f1f4" stroke-width="1.3"/>
<text x="1139.4" y="74.0" textLength="47.8" lengthAdjust="spacing">USDT</text>
<rect x="1769.9" y="48.2" width="110.8" height="40.1" rx="6" fill="#fff" stroke="#f0f1f4" stroke-width="1.3"/>
<text x="1784.0" y="74.0" textLength="37.5" lengthAdjust="spacing">USD</text>
<rect x="2417.6" y="48.4" width="120.6" height="39.1" rx="6" fill="#fff" stroke="#f0f1f4" stroke-width="1.3"/>
<text x="2432.2" y="74.0" textLength="47.8" lengthAdjust="spacing">USDT</text>
<rect x="459.3" y="598.5" width="54.7" height="24.5" rx="2" fill="#fff" stroke="#2962ff" stroke-width="1.6"/>
<text x="471.6" y="617.2" class="bl" textLength="34.0" lengthAdjust="spacing">658</text>
<rect x="1121.5" y="383.6" width="100.5" height="24.0" rx="2" fill="#fff" stroke="#2962ff" stroke-width="1.6"/>
<text x="1133.9" y="402.1" class="bl" textLength="80.5" lengthAdjust="spacing">8,177.91</text>
<rect x="1766.0" y="268.8" width="113.0" height="24.8" rx="2" fill="#fff" stroke="#2962ff" stroke-width="1.6"/>
<text x="1779.0" y="287.7" class="bl" textLength="91.0" lengthAdjust="spacing">51,666.81</text>
<path d="M2413 1030.2h111.3a3 3 0 0 1 3 3v42a3 3 0 0 1 -3 3h-111.3z" fill="#2962ff"/>
<text x="2426.3" y="1049.7" textLength="91.0" lengthAdjust="spacing" style="fill:#fff">73,511.40</text>
<text x="2426.3" y="1070.7" textLength="79.0" lengthAdjust="spacing" style="fill:#fff;opacity:.8">05:09:33</text>
<text x="28.3" y="72.8" textLength="302.0" lengthAdjust="spacing">Bitcoin / U.S. Dollar · 2D · Bitstamp</text>
<text x="342.4" y="72.8">H</text>
<text x="356.4" y="72.8" class="bl" textLength="58.8" lengthAdjust="spacing">73,764</text>
<text x="427.3" y="72.8" textLength="25.7" lengthAdjust="spacing">L...</text>
<text x="570.4" y="72.8" textLength="283.5" lengthAdjust="spacing">Bitcoin / TetherUS · 2D · Binance</text>
<text x="1263.5" y="72.8" textLength="280.4" lengthAdjust="spacing">Bitcoin / U.S. Dollar · 2D · INDEX</text>
<text x="1555.5" y="72.8">H</text>
<text x="1569.7" y="72.8" class="bl" textLength="85.7" lengthAdjust="spacing">73,748.50</text>
<text x="1667.4" y="72.8" textLength="25.8" lengthAdjust="spacing">L...</text>
<text x="1907.9" y="72.8" textLength="280.7" lengthAdjust="spacing">Bitcoin / TetherUS · 1D · Binance</text>
<text x="2200.4" y="72.8">H</text>
<text x="2213.9" y="72.8" class="bl" textLength="83.8" lengthAdjust="spacing">73,726.13</text>
<text x="2309.0" y="72.8">L</text>
<text x="2319.7" y="72.8" class="bl" textLength="84.6" lengthAdjust="spacing">72,513.09</text>
<g clip-path="url(#t0)">
<text x="44.7" y="1423.6" class="b" textLength="48.1" lengthAdjust="spacingAndGlyphs">2015</text>
<text x="185.6" y="1423.6" textLength="24.1" lengthAdjust="spacing">Jul</text>
<text x="305.9" y="1423.6" class="b" textLength="48.6" lengthAdjust="spacingAndGlyphs">2016</text>
</g>
<g clip-path="url(#t1)">
<text x="599.4" y="1423.6" textLength="33.0" lengthAdjust="spacing">Nov</text>
<text x="686.2" y="1423.6" class="b" textLength="48.5" lengthAdjust="spacingAndGlyphs">2019</text>
<text x="785.5" y="1423.6" textLength="31.9" lengthAdjust="spacing">Mar</text>
<text x="875.7" y="1423.6" textLength="34.7" lengthAdjust="spacing">May</text>
<text x="975.9" y="1423.6" textLength="23.9" lengthAdjust="spacing">Jul</text>
<text x="1065.6" y="1423.6" textLength="32.4" lengthAdjust="spacing">Sep</text>
</g>
<g clip-path="url(#t2)">
<text x="1284.7" y="1423.6" textLength="23.9" lengthAdjust="spacing">Jul</text>
<text x="1416.8" y="1423.6" class="b" textLength="47.9" lengthAdjust="spacingAndGlyphs">2023</text>
<text x="1571.0" y="1423.6" textLength="24.0" lengthAdjust="spacing">Jul</text>
<text x="1703.2" y="1423.6" class="b" textLength="47.4" lengthAdjust="spacingAndGlyphs">2024</text>
</g>
<g clip-path="url(#t3)">
<text x="1893.6" y="1423.6" class="b" textLength="48.0" lengthAdjust="spacingAndGlyphs">2026</text>
<text x="2017.8" y="1423.6" textLength="32.1" lengthAdjust="spacing">Mar</text>
<text x="2136.7" y="1423.6" textLength="35.1" lengthAdjust="spacing">May</text>
<text x="2263.0" y="1423.6" textLength="24.4" lengthAdjust="spacing">Jul</text>
<text x="2380.8" y="1423.6" textLength="32.8" lengthAdjust="spacing">Sep</text>
</g>
<text x="115.0" y="1285.1" class="o" textLength="195.0" lengthAdjust="spacingAndGlyphs">2015 Bottom</text>
<text x="55.7" y="1316.5" class="o" textLength="312.5" lengthAdjust="spacingAndGlyphs">No Range Low Sweep</text>
<text x="716.4" y="1303.2" class="o" textLength="195.2" lengthAdjust="spacingAndGlyphs">2019 Bottom</text>
<text x="657.2" y="1334.6" class="o" textLength="313.0" lengthAdjust="spacingAndGlyphs">No Range Low Sweep</text>
<text x="1326.4" y="1289.0" class="o" textLength="194.9" lengthAdjust="spacingAndGlyphs">2022 Bottom</text>
<text x="1254.6" y="1320.1" class="o" textLength="337.7" lengthAdjust="spacingAndGlyphs">FTX Black Swan Sweep</text>
<rect x="1944" y="1252.5" width="432.3" height="42.9" fill="#fff" stroke="#000" stroke-width="2.2"/>
<text x="1951.8" y="1285.8" class="o" textLength="417.2" lengthAdjust="spacingAndGlyphs" style="font-size:29.5px">2026 BTC (Possible Bottom)</text>
<g fill="#dcdcdc"><path d="M18.4 1472.1H36.9V1495.7H28V1481.2H18.4Z"/><circle cx="45" cy="1476.8" r="4.3"/><path d="M53.2 1472.1H65L55.8 1495.7H45Z"/></g>
<text x="75.9" y="1495.7" class="b" textLength="187.4" lengthAdjust="spacingAndGlyphs" style="font-size:33px;fill:#dcdcdc">TradingView</text>
</svg></body></html>
